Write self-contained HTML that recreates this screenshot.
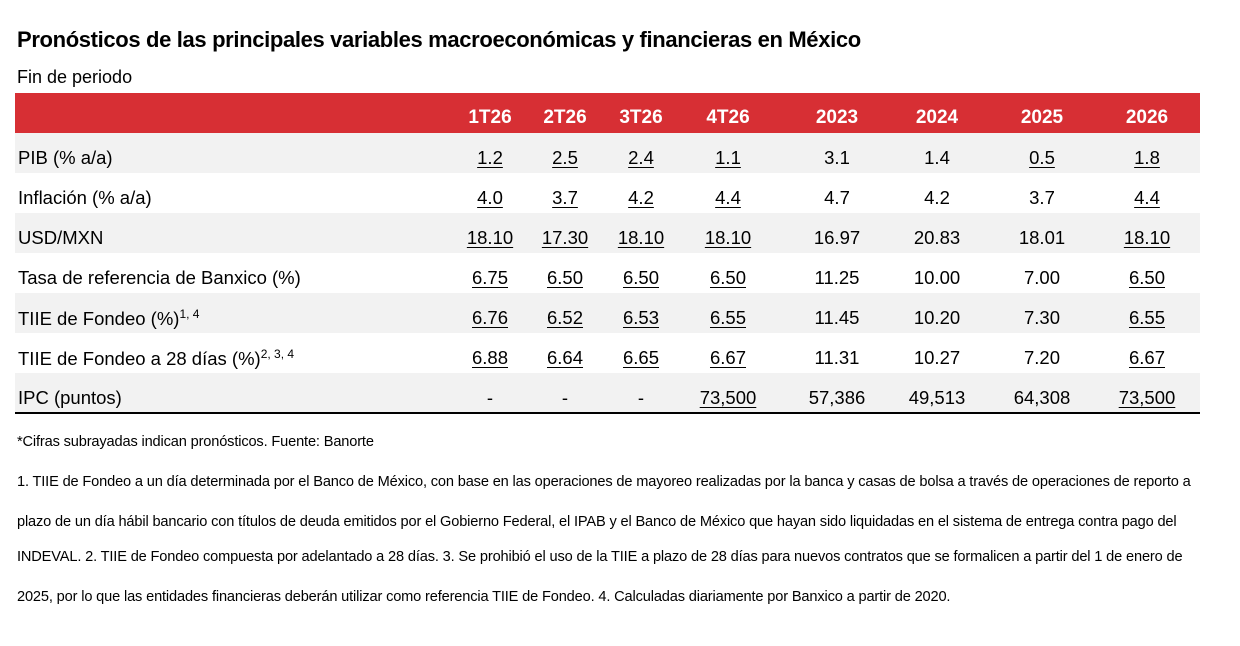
<!DOCTYPE html>
<html><head><meta charset="utf-8"><style>
body{margin:0;width:1240px;height:646px;background:#fff;font-family:"Liberation Sans",Arial,sans-serif;color:#000;position:relative;overflow:hidden}
.t{position:absolute;white-space:nowrap}
.title{left:17px;top:27px;font-size:22px;font-weight:bold;letter-spacing:-0.35px}
.sub{left:17px;top:67px;font-size:18px}
.row{position:absolute;left:15px;width:1185px;height:40px;font-size:18.5px}
.row span{position:absolute;top:14px;white-space:nowrap}
.row .l{left:3px}
.c{transform:translateX(-50%)}
.u{text-decoration:underline;text-underline-offset:3px}
.h span{color:#fff;font-weight:bold;font-size:19px}
sup{font-size:12px}
.fn{left:17px;font-size:14.6px;letter-spacing:-0.15px}
</style></head><body>
<div class="t title">Pronósticos de las principales variables macroeconómicas y financieras en México</div>
<div class="t sub">Fin de periodo</div>
<div class="row h" style="top:93px;background:#d72f34"><span class="c" style="left:475px">1T26</span><span class="c" style="left:550px">2T26</span><span class="c" style="left:626px">3T26</span><span class="c" style="left:713px">4T26</span><span class="c" style="left:822px">2023</span><span class="c" style="left:922px">2024</span><span class="c" style="left:1027px">2025</span><span class="c" style="left:1132px">2026</span></div>
<div class="row" style="top:133px;background:#f2f2f2"><span class="l">PIB (% a/a)</span><span class="c u" style="left:475px">1.2</span><span class="c u" style="left:550px">2.5</span><span class="c u" style="left:626px">2.4</span><span class="c u" style="left:713px">1.1</span><span class="c" style="left:822px">3.1</span><span class="c" style="left:922px">1.4</span><span class="c u" style="left:1027px">0.5</span><span class="c u" style="left:1132px">1.8</span></div>
<div class="row" style="top:173px"><span class="l">Inflación (% a/a)</span><span class="c u" style="left:475px">4.0</span><span class="c u" style="left:550px">3.7</span><span class="c u" style="left:626px">4.2</span><span class="c u" style="left:713px">4.4</span><span class="c" style="left:822px">4.7</span><span class="c" style="left:922px">4.2</span><span class="c" style="left:1027px">3.7</span><span class="c u" style="left:1132px">4.4</span></div>
<div class="row" style="top:213px;background:#f2f2f2"><span class="l">USD/MXN</span><span class="c u" style="left:475px">18.10</span><span class="c u" style="left:550px">17.30</span><span class="c u" style="left:626px">18.10</span><span class="c u" style="left:713px">18.10</span><span class="c" style="left:822px">16.97</span><span class="c" style="left:922px">20.83</span><span class="c" style="left:1027px">18.01</span><span class="c u" style="left:1132px">18.10</span></div>
<div class="row" style="top:253px"><span class="l">Tasa de referencia de Banxico (%)</span><span class="c u" style="left:475px">6.75</span><span class="c u" style="left:550px">6.50</span><span class="c u" style="left:626px">6.50</span><span class="c u" style="left:713px">6.50</span><span class="c" style="left:822px">11.25</span><span class="c" style="left:922px">10.00</span><span class="c" style="left:1027px">7.00</span><span class="c u" style="left:1132px">6.50</span></div>
<div class="row" style="top:293px;background:#f2f2f2"><span class="l">TIIE de Fondeo (%)<sup>1, 4</sup></span><span class="c u" style="left:475px">6.76</span><span class="c u" style="left:550px">6.52</span><span class="c u" style="left:626px">6.53</span><span class="c u" style="left:713px">6.55</span><span class="c" style="left:822px">11.45</span><span class="c" style="left:922px">10.20</span><span class="c" style="left:1027px">7.30</span><span class="c u" style="left:1132px">6.55</span></div>
<div class="row" style="top:333px"><span class="l">TIIE de Fondeo a 28 días (%)<sup>2, 3, 4</sup></span><span class="c u" style="left:475px">6.88</span><span class="c u" style="left:550px">6.64</span><span class="c u" style="left:626px">6.65</span><span class="c u" style="left:713px">6.67</span><span class="c" style="left:822px">11.31</span><span class="c" style="left:922px">10.27</span><span class="c" style="left:1027px">7.20</span><span class="c u" style="left:1132px">6.67</span></div>
<div class="row" style="top:373px;background:#f2f2f2;border-bottom:2px solid #000;height:39px"><span class="l">IPC (puntos)</span><span class="c" style="left:475px">-</span><span class="c" style="left:550px">-</span><span class="c" style="left:626px">-</span><span class="c u" style="left:713px">73,500</span><span class="c" style="left:822px">57,386</span><span class="c" style="left:922px">49,513</span><span class="c" style="left:1027px">64,308</span><span class="c u" style="left:1132px">73,500</span></div>
<div class="t fn" style="top:434px">*Cifras subrayadas indican pronósticos. Fuente: Banorte</div>
<div class="t fn" style="top:474px">1. TIIE de Fondeo a un día determinada por el Banco de México, con base en las operaciones de mayoreo realizadas por la banca y casas de bolsa a través de operaciones de reporto a</div>
<div class="t fn" style="top:514px">plazo de un día hábil bancario con títulos de deuda emitidos por el Gobierno Federal, el IPAB y el Banco de México que hayan sido liquidadas en el sistema de entrega contra pago del</div>
<div class="t fn" style="top:549px">INDEVAL. 2. TIIE de Fondeo compuesta por adelantado a 28 días. 3. Se prohibió el uso de la TIIE a plazo de 28 días para nuevos contratos que se formalicen a partir del 1 de enero de</div>
<div class="t fn" style="top:589px">2025, por lo que las entidades financieras deberán utilizar como referencia TIIE de Fondeo. 4. Calculadas diariamente por Banxico a partir de 2020.</div>
</body></html>
